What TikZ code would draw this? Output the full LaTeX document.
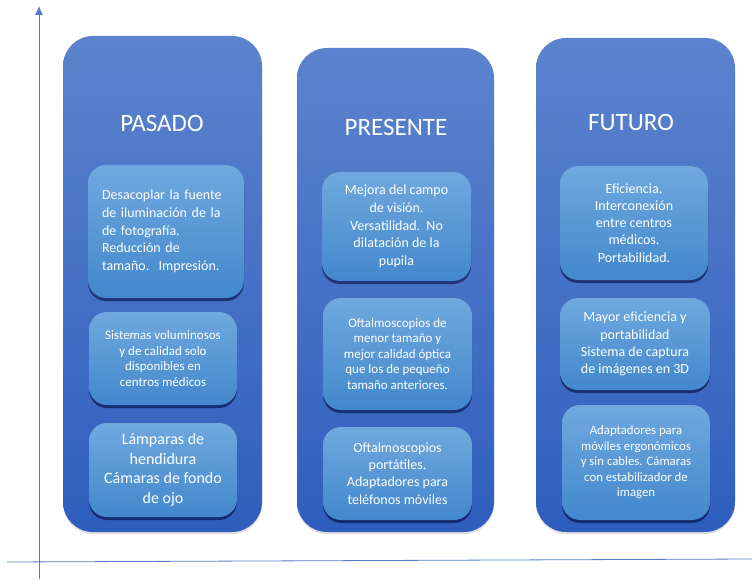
\documentclass[tikz,border=0pt]{standalone}
\usepackage{fontspec}
\setmainfont{Carlito}
\usetikzlibrary{shadows,arrows.meta}

\definecolor{colTop}{RGB}{92,131,205}
\definecolor{colBot}{RGB}{46,94,190}
\definecolor{boxTop}{RGB}{112,168,222}
\definecolor{boxBot}{RGB}{66,136,204}
\definecolor{axisBlue}{RGB}{84,124,204}

\begin{document}
\begin{tikzpicture}[x=1pt,y=-1pt]
    \useasboundingbox (0,0) rectangle (752,580);

        % ejes
        \coordinate (y0) at (39,579);
        \coordinate (y1) at (39,6);
        \coordinate (x0) at (7,562);
        \coordinate (x1) at (752,559);
        \draw [axisBlue, thick, -{Latex[length=9pt,width=8pt]}] (y0) -- (y1);
        \draw [axisBlue, thick] (x0) -- (x1);

        \begin{scope}[every node/.style={rounded corners=30pt,inner sep=0pt,top color=colTop,bottom color=colBot,
                drop shadow={shadow xshift=0pt,shadow yshift=-2pt,opacity=.25}}]
            \node (pasado) at (162.5,284) [minimum width=199pt,minimum height=496pt] {};
            \node (presente) at (395.5,290) [minimum width=197pt,minimum height=484pt] {};
            \node (futuro) at (635.5,285) [minimum width=199pt,minimum height=494pt] {};
        \end{scope}

        \begin{scope}[every node/.style={text=white,font=\fontsize{25}{30}\selectfont}]
            \node (tpasado) at (162,123) {PASADO};
            \node (tpresente) at (396,127) {PRESENTE};
            \node (tfuturo) at (631,122) {FUTURO};
        \end{scope}

        \begin{scope}[every node/.style={rounded corners=18pt,inner sep=0pt,text=white,align=center,
                top color=boxTop,bottom color=boxBot,
                drop shadow={shadow xshift=0pt,shadow yshift=-3pt,opacity=.55,fill=black!80!blue}}]
            \node (p1) at (166,231.5) [minimum width=156pt,minimum height=133pt,text width=128pt,align=left,
                font=\fontsize{14}{17.7}\selectfont]
                {Desacoplar la fuente de iluminación de la de fotografía.\\ Reducción de\\ tamaño.\ \ Impresión.};
            \node (p2) at (163,358.5) [minimum width=148pt,minimum height=93pt,font=\fontsize{13}{15.5}\selectfont]
                {Sistemas voluminosos\\ y de calidad solo\\ disponibles en\\ centros médicos};
            \node (p3) at (163,470) [minimum width=148pt,minimum height=94pt,font=\fontsize{16}{19.5}\selectfont]
                {Lámparas de\\ hendidura\\ Cámaras de fondo\\ de ojo};

            \node (r1) at (396.5,226.5) [minimum width=149pt,minimum height=109pt,font=\fontsize{14}{17.7}\selectfont]
                {Mejora del campo\\ de visión.\\ Versatilidad.\ \ No\\ dilatación de la\\ pupila};
            \node (r2) at (397.5,354) [minimum width=149pt,minimum height=112pt,font=\fontsize{13}{15.5}\selectfont]
                {Oftalmoscopios de\\ menor tamaño y\\ mejor calidad óptica\\ que los de pequeño\\ tamaño anteriores.};
            \node (r3) at (397.5,473.5) [minimum width=149pt,minimum height=93pt,font=\fontsize{14}{17.2}\selectfont]
                {Oftalmoscopios\\ portátiles.\\ Adaptadores para\\ teléfonos móviles};

            \node (f1) at (634,223) [minimum width=148pt,minimum height=114pt,font=\fontsize{14}{17.2}\selectfont]
                {Eficiencia.\\ Interconexión\\ entre centros\\ médicos.\\ Portabilidad.};
            \node (f2) at (635,344) [minimum width=150pt,minimum height=92pt,font=\fontsize{14}{17.2}\selectfont]
                {Mayor eficiencia y\\ portabilidad\\ Sistema de captura\\ de imágenes en 3D};
            \node (f3) at (636,462.5) [minimum width=148pt,minimum height=115pt,font=\fontsize{12.8}{15.5}\selectfont]
                {Adaptadores para\\ móviles ergonómicos\\ y sin cables. Cámaras\\ con estabilizador de\\ imagen};
        \end{scope}

    \end{tikzpicture}
\end{document}
